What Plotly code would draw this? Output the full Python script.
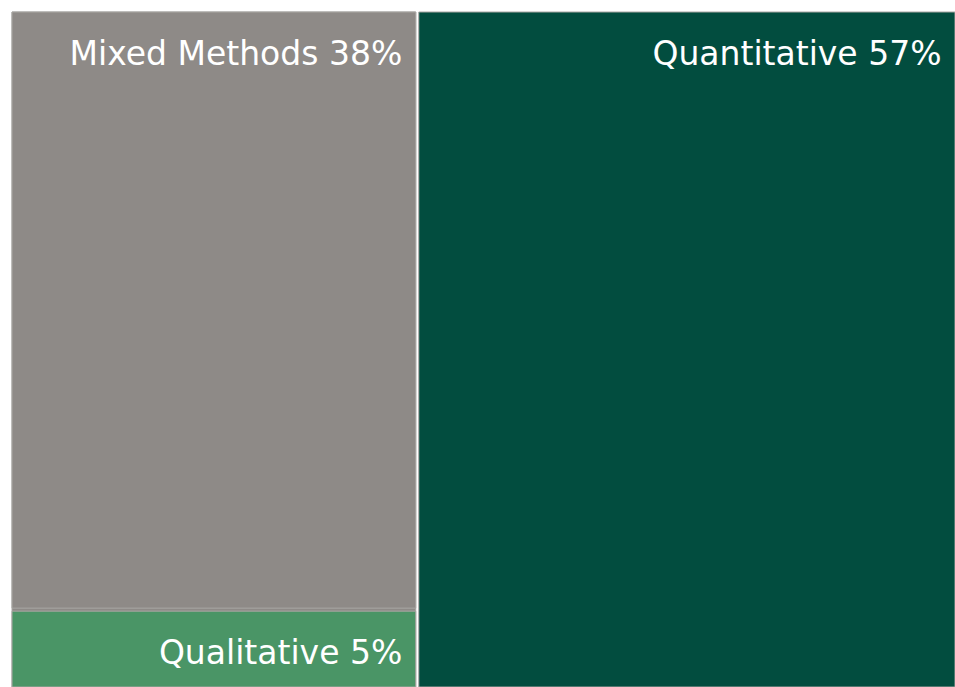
import plotly.graph_objects as go

# research approaches, share of studies (%)
ids = ["left", "Mixed Methods", "Qualitative", "Quantitative"]
labels = ["", "Mixed Methods", "Qualitative", "Quantitative"]
parents = ["", "left", "left", ""]
values = [43, 38, 5, 57]
colors = ["#8e8a87", "#8e8a87", "#4a9566", "#024d3f"]

# small first line pushes the label down a bit, nbsp keeps it off the right edge
tmpl = "<span style='font-size:8px'>&nbsp;</span><br>%{label} %{value}%\u00a0"

fig = go.Figure(go.Treemap(
    ids=ids,
    labels=labels,
    parents=parents,
    values=values,
    branchvalues="total",
    sort=False,
    texttemplate=["", tmpl, tmpl, tmpl],
    textposition="top right",
    textfont=dict(family="DejaVu Sans", size=33, color="white"),
    marker=dict(colors=colors, pad=dict(t=0, l=0, r=0, b=0),
                line=dict(color="#a9a7a4", width=1)),
    pathbar=dict(visible=False),
    hoverinfo="label+value",
))

fig.update_layout(
    width=955, height=687,
    margin=dict(l=12, t=12, r=0, b=0),
    paper_bgcolor="white",
    showlegend=False,
)

fig.write_html("out.html", config={"displayModeBar": False},
               post_script="document.body.style.margin='0';document.body.style.overflow='hidden';")
